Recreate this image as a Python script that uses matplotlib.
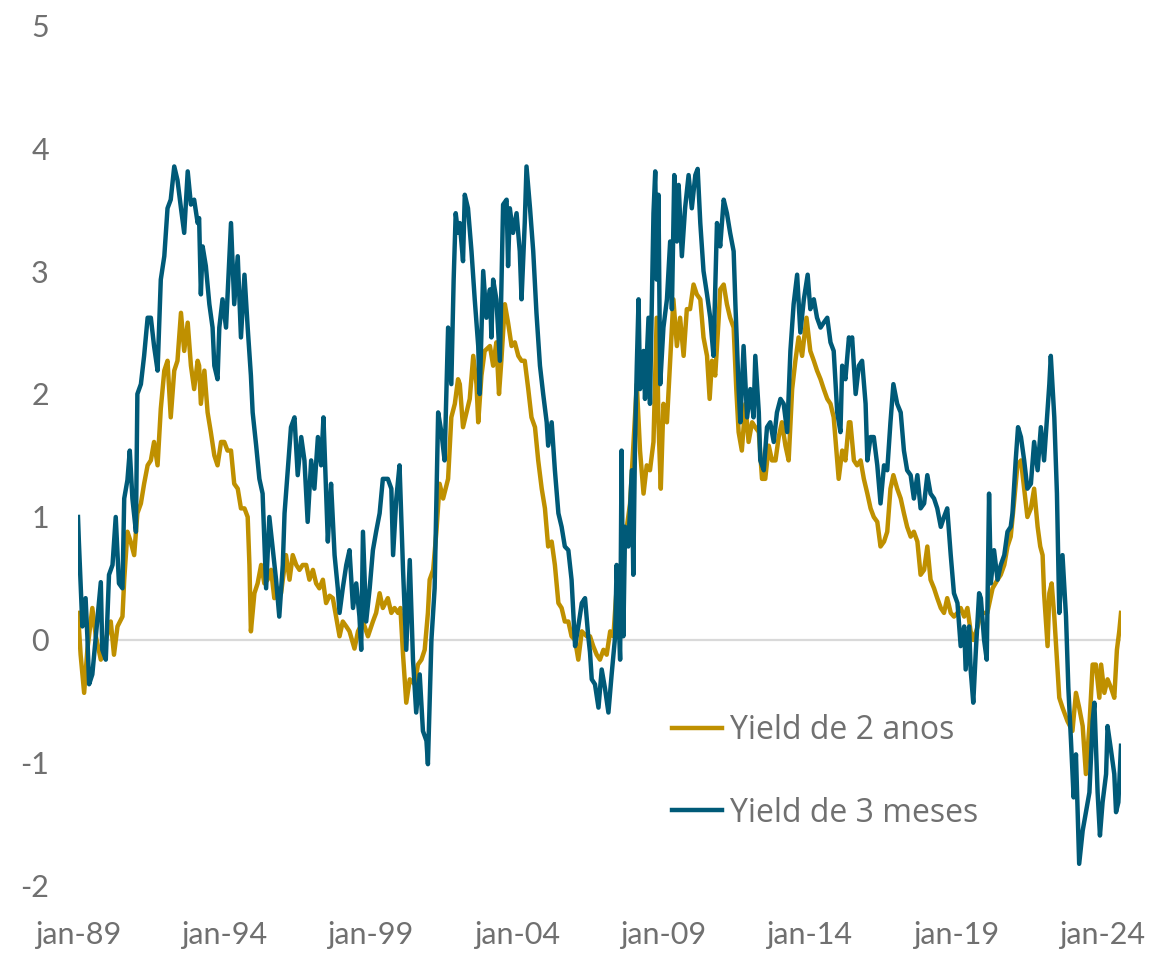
import matplotlib
matplotlib.use('Agg')
import matplotlib.pyplot as plt

# decimal years
gold_t = [
    1989.00, 1989.09, 1989.21, 1989.32, 1989.49, 1989.61, 1989.78, 1989.95, 1990.12, 1990.23,
    1990.35, 1990.52, 1990.58, 1990.69, 1990.80, 1990.92, 1991.03, 1991.15, 1991.26, 1991.38,
    1991.49, 1991.60, 1991.72, 1991.83, 1991.95, 1992.06, 1992.17, 1992.29, 1992.40, 1992.52,
    1992.63, 1992.75, 1992.86, 1992.97, 1993.09,
    1993.14, 1993.20, 1993.32, 1993.43, 1993.54, 1993.66, 1993.77, 1993.89, 1994.00, 1994.11,
    1994.23, 1994.34, 1994.46, 1994.57, 1994.69, 1994.80, 1994.86, 1994.91, 1995.03, 1995.14,
    1995.26, 1995.37, 1995.48, 1995.60, 1995.71, 1995.83, 1995.94, 1996.11, 1996.23, 1996.34,
    1996.46, 1996.57, 1996.68, 1996.80, 1996.91, 1997.03, 1997.14, 1997.25, 1997.37, 1997.48,
    1997.60, 1997.71, 1997.82, 1997.94, 1998.05, 1998.17, 1998.28, 1998.45, 1998.57, 1998.74,
    1998.91, 1999.08, 1999.19, 1999.31, 1999.42, 1999.59, 1999.71, 1999.82, 1999.94, 2000.02,
    2000.11, 2000.22, 2000.34, 2000.51, 2000.62, 2000.74, 2000.85, 2000.96, 2001.02, 2001.14,
    2001.25, 2001.36, 2001.48, 2001.65, 2001.76, 2001.88, 2001.99,
    2002.05, 2002.16, 2002.28, 2002.39, 2002.51, 2002.62, 2002.68, 2002.79, 2002.90, 2003.08,
    2003.19, 2003.30, 2003.39, 2003.47, 2003.59, 2003.70, 2003.82, 2003.93, 2004.05, 2004.16,
    2004.27, 2004.39, 2004.50, 2004.62, 2004.73, 2004.85, 2004.96, 2005.07, 2005.19, 2005.30,
    2005.42, 2005.53, 2005.64, 2005.76, 2005.87, 2005.99, 2006.10, 2006.22, 2006.39,
    2006.50, 2006.61, 2006.73, 2006.84, 2006.96, 2007.07, 2007.19, 2007.30, 2007.41, 2007.53,
    2007.64, 2007.76, 2007.87, 2007.98, 2008.10, 2008.21, 2008.33, 2008.44, 2008.55, 2008.67,
    2008.78, 2008.84, 2008.92, 2009.01, 2009.13, 2009.24, 2009.35, 2009.47, 2009.58, 2009.70,
    2009.81, 2009.92, 2010.04, 2010.15, 2010.27, 2010.38, 2010.50, 2010.59, 2010.67, 2010.78,
    2010.90,
    2010.95, 2011.07, 2011.18, 2011.29, 2011.41, 2011.50, 2011.58, 2011.69, 2011.81, 2011.92,
    2012.04, 2012.15, 2012.27, 2012.38, 2012.49, 2012.61, 2012.72, 2012.84, 2012.95, 2013.06,
    2013.18, 2013.29, 2013.41, 2013.52, 2013.63, 2013.75, 2013.90, 2014.03, 2014.15, 2014.26,
    2014.38, 2014.49, 2014.61, 2014.72, 2014.83, 2014.95, 2015.00, 2015.12, 2015.23, 2015.35,
    2015.40, 2015.52, 2015.63, 2015.75, 2015.86, 2015.98, 2016.09, 2016.20, 2016.32, 2016.43,
    2016.55, 2016.66, 2016.77, 2016.87, 2017.00, 2017.12, 2017.23, 2017.34, 2017.46, 2017.57,
    2017.69, 2017.80, 2017.92, 2018.03, 2018.14, 2018.26, 2018.37, 2018.49, 2018.60, 2018.71,
    2018.83, 2018.94, 2019.06, 2019.17, 2019.29, 2019.40, 2019.51, 2019.60, 2019.74,
    2019.86, 2020.08, 2020.26, 2020.43, 2020.54, 2020.66, 2020.77, 2020.88, 2020.99, 2021.11,
    2021.23, 2021.34, 2021.45, 2021.57, 2021.68, 2021.80, 2021.89, 2021.97, 2022.02, 2022.14,
    2022.20, 2022.28, 2022.37, 2022.46, 2022.54, 2022.65, 2022.82, 2022.99, 2023.11, 2023.22,
    2023.34, 2023.45, 2023.57, 2023.68, 2023.79, 2023.91, 2023.97, 2024.08, 2024.19, 2024.31,
    2024.42, 2024.51, 2024.59, 2024.65,
]
gold_v = [
    0.22, -0.12, -0.43, -0.08, 0.26, 0.03, -0.16, 0.00, 0.15, -0.12,
    0.11, 0.19, 0.49, 0.88, 0.80, 0.69, 1.03, 1.11, 1.27, 1.42,
    1.46, 1.61, 1.42, 1.88, 2.19, 2.27, 1.81, 2.19, 2.27, 2.66,
    2.35, 2.58, 2.23, 2.04, 2.27,
    2.23, 1.92, 2.19, 1.85, 1.69, 1.50, 1.42, 1.61, 1.61, 1.54,
    1.54, 1.27, 1.23, 1.07, 1.07, 1.00, 0.61, 0.07, 0.38, 0.46,
    0.61, 0.46, 0.49, 0.57, 0.34, 0.42, 0.38, 0.69, 0.49, 0.69,
    0.61, 0.57, 0.61, 0.61, 0.49, 0.57, 0.46, 0.42, 0.49, 0.30,
    0.36, 0.34, 0.19, 0.03, 0.15, 0.11, 0.07, -0.07, 0.07, 0.15,
    0.03, 0.15, 0.22, 0.38, 0.26, 0.34, 0.22, 0.26, 0.22, 0.26,
    -0.12, -0.51, -0.32, -0.36, -0.20, -0.16, -0.08, 0.22, 0.49, 0.57,
    0.88, 1.27, 1.15, 1.31, 1.81, 1.92, 2.12,
    2.08, 1.73, 1.85, 1.96, 2.31, 2.08, 1.77, 2.15, 2.35, 2.39,
    2.23, 2.42, 2.00, 2.27, 2.73, 2.58, 2.39, 2.42, 2.31, 2.27,
    2.27, 2.04, 1.81, 1.73, 1.46, 1.23, 1.07, 0.76, 0.80, 0.61,
    0.30, 0.26, 0.15, 0.15, 0.03, 0.00, -0.16, 0.07, 0.03,
    0.03, -0.05, -0.12, -0.16, -0.08, -0.12, 0.07, 0.03, 0.42, 0.49,
    0.73, 0.92, 1.11, 1.58, 2.08, 1.54, 1.19, 1.42, 1.38, 1.61,
    2.62, 1.77, 1.23, 1.92, 1.77, 2.27, 2.77, 2.39, 2.62, 2.31,
    2.69, 2.69, 2.89, 2.81, 2.77, 2.46, 2.31, 1.96, 2.27, 2.15,
    2.62,
    2.85, 2.89, 2.73, 2.62, 2.54, 2.04, 1.69, 1.54, 1.92, 1.61,
    1.77, 1.73, 1.69, 1.31, 1.31, 1.58, 1.46, 1.46, 1.65, 1.77,
    1.58, 1.46, 2.04, 2.27, 2.46, 2.31, 2.62, 2.35, 2.27, 2.19,
    2.12, 2.04, 1.96, 1.92, 1.81, 1.46, 1.31, 1.54, 1.46, 1.77,
    1.77, 1.46, 1.42, 1.46, 1.31, 1.19, 1.07, 1.00, 0.96, 0.76,
    0.80, 0.88, 1.23, 1.34, 1.23, 1.15, 1.03, 0.92, 0.84, 0.88,
    0.80, 0.53, 0.57, 0.76, 0.49, 0.42, 0.34, 0.26, 0.22, 0.34,
    0.22, 0.19, 0.22, 0.26, 0.19, 0.26, 0.07, 0.00, 0.10,
    0.22, 0.22, 0.42, 0.49, 0.53, 0.61, 0.76, 0.84, 1.11, 1.42,
    1.46, 1.23, 1.00, 1.07, 1.23, 0.92, 0.76, 0.69, 0.38, -0.05,
    0.38, 0.46, 0.19, -0.16, -0.47, -0.55, -0.66, -0.74, -0.43, -0.55,
    -0.70, -1.09, -0.70, -0.20, -0.20, -0.47, -0.20, -0.43, -0.32, -0.39,
    -0.47, -0.08, 0.07, 0.22,
]

blue_t = [
    1989.00, 1989.03, 1989.09, 1989.15, 1989.26, 1989.32, 1989.38, 1989.49, 1989.61, 1989.78,
    1989.83, 1989.95, 1990.06, 1990.18, 1990.29, 1990.40, 1990.52, 1990.58, 1990.69, 1990.77,
    1990.86, 1990.98, 1991.03, 1991.15, 1991.26, 1991.38, 1991.49, 1991.60, 1991.72, 1991.83,
    1991.95, 1992.06, 1992.17, 1992.29, 1992.40, 1992.52, 1992.63, 1992.75, 1992.86, 1992.97,
    1993.09,
    1993.14, 1993.20, 1993.26, 1993.37, 1993.49, 1993.60, 1993.66, 1993.77, 1993.83, 1993.94,
    1994.06, 1994.23, 1994.34, 1994.46, 1994.57, 1994.69, 1994.80, 1994.91, 1994.97, 1995.09,
    1995.20, 1995.31, 1995.43, 1995.54, 1995.66, 1995.77, 1995.88, 1996.00, 1996.06, 1996.17,
    1996.28, 1996.40, 1996.51, 1996.63, 1996.74, 1996.85, 1996.97, 1997.08, 1997.20, 1997.31,
    1997.39, 1997.54,
    1997.60, 1997.65, 1997.77, 1997.88, 1997.94, 1998.05, 1998.17, 1998.28, 1998.40, 1998.51,
    1998.62, 1998.68, 1998.74, 1998.85, 1998.97, 1999.08, 1999.19, 1999.31, 1999.42, 1999.59,
    1999.71, 1999.77, 1999.88, 1999.99, 2000.11, 2000.22, 2000.34, 2000.45, 2000.56, 2000.68,
    2000.79, 2000.91, 2000.96, 2001.08, 2001.19, 2001.31, 2001.42, 2001.53, 2001.65, 2001.76,
    2001.84, 2001.91, 2001.99,
    2002.05, 2002.16, 2002.22, 2002.33, 2002.45, 2002.56, 2002.68, 2002.73, 2002.85, 2002.96,
    2003.08, 2003.13, 2003.19, 2003.30, 2003.42, 2003.53, 2003.65, 2003.70, 2003.76, 2003.87,
    2003.99, 2004.10, 2004.16, 2004.27, 2004.33, 2004.45, 2004.56, 2004.67, 2004.79, 2004.90,
    2005.02, 2005.07, 2005.19, 2005.30, 2005.42, 2005.53, 2005.64, 2005.76, 2005.87, 2005.99,
    2006.10, 2006.22, 2006.33, 2006.44,
    2006.50, 2006.56, 2006.67, 2006.79, 2006.90, 2007.01, 2007.13, 2007.24, 2007.36, 2007.41,
    2007.47, 2007.53, 2007.58, 2007.64, 2007.70, 2007.81, 2007.87, 2007.93, 2007.98, 2008.04,
    2008.10, 2008.16, 2008.21, 2008.33, 2008.38, 2008.50, 2008.55, 2008.67, 2008.73, 2008.78,
    2008.84, 2008.90, 2009.01, 2009.13, 2009.24, 2009.30, 2009.38, 2009.47, 2009.53, 2009.64,
    2009.75, 2009.87, 2009.98, 2010.10, 2010.18, 2010.27, 2010.38, 2010.50, 2010.61, 2010.72,
    2010.84, 2010.90,
    2010.95, 2011.07, 2011.18, 2011.29, 2011.41, 2011.47, 2011.58, 2011.64, 2011.75, 2011.87,
    2011.98, 2012.09, 2012.15, 2012.27, 2012.32, 2012.44, 2012.55, 2012.66, 2012.78, 2012.89,
    2013.01, 2013.12, 2013.24, 2013.35, 2013.46, 2013.58, 2013.69, 2013.81, 2013.94, 2014.03,
    2014.15, 2014.26, 2014.38, 2014.49, 2014.61, 2014.72, 2014.83, 2014.95, 2015.06, 2015.12,
    2015.23, 2015.35,
    2015.40, 2015.46, 2015.58, 2015.69, 2015.80, 2015.92, 2015.98, 2016.09, 2016.20, 2016.32,
    2016.43, 2016.55, 2016.66, 2016.77, 2016.87, 2017.00, 2017.12, 2017.23, 2017.34, 2017.46,
    2017.57, 2017.69, 2017.80, 2017.92, 2018.03, 2018.14, 2018.26, 2018.37, 2018.49, 2018.60,
    2018.71, 2018.83, 2018.94, 2019.06, 2019.17, 2019.29, 2019.34, 2019.46, 2019.51, 2019.60,
    2019.69, 2019.80,
    2019.86, 2019.97, 2020.06, 2020.14, 2020.20, 2020.31, 2020.43, 2020.54, 2020.66, 2020.77,
    2020.88, 2020.94, 2021.05, 2021.13, 2021.23, 2021.34, 2021.45, 2021.57, 2021.68, 2021.80,
    2021.91, 2022.02, 2022.14, 2022.20, 2022.25, 2022.37, 2022.46, 2022.54, 2022.65, 2022.77,
    2022.85, 2022.94, 2023.03, 2023.11, 2023.22, 2023.34, 2023.45, 2023.57, 2023.68, 2023.74,
    2023.85, 2023.93, 2024.02, 2024.14, 2024.19, 2024.31, 2024.42, 2024.48, 2024.56, 2024.65,
]
blue_v = [
    1.00, 0.80, 0.46, 0.11, 0.34, 0.03, -0.36, -0.28, 0.03, 0.47,
    -0.08, -0.16, 0.53, 0.61, 1.00, 0.46, 0.42, 1.15, 1.30, 1.54,
    1.15, 0.88, 2.00, 2.08, 2.31, 2.62, 2.62, 2.39, 2.19, 2.93,
    3.12, 3.51, 3.58, 3.85, 3.74, 3.51, 3.31, 3.81, 3.54, 3.58,
    3.39,
    3.43, 2.81, 3.20, 3.04, 2.73, 2.54, 2.23, 2.12, 2.54, 2.77,
    2.54, 3.39, 2.73, 3.12, 2.46, 2.97, 2.54, 2.15, 1.85, 1.58,
    1.31, 1.19, 0.42, 1.00, 0.73, 0.49, 0.19, 0.61, 1.03, 1.38,
    1.73, 1.81, 1.34, 1.65, 1.46, 0.96, 1.46, 1.23, 1.65, 1.42,
    1.81, 0.80,
    1.07, 1.27, 0.69, 0.42, 0.22, 0.42, 0.61, 0.73, 0.26, 0.46,
    0.19, -0.08, 0.88, 0.15, 0.42, 0.73, 0.88, 1.03, 1.31, 1.31,
    1.23, 0.69, 1.15, 1.42, 0.57, -0.08, 0.65, -0.16, -0.59, -0.28,
    -0.74, -0.82, -1.01, 0.00, 0.42, 1.85, 1.69, 1.46, 2.54, 2.08,
    2.93, 3.47, 3.31,
    3.39, 3.08, 3.62, 3.51, 3.16, 2.77, 2.39, 2.00, 3.00, 2.62,
    2.85, 2.46, 2.93, 2.77, 2.27, 3.54, 3.58, 3.04, 3.51, 3.31,
    3.47, 3.16, 2.77, 3.39, 3.85, 3.51, 3.16, 2.66, 2.23, 2.00,
    1.77, 1.58, 1.77, 1.38, 1.03, 0.92, 0.76, 0.73, 0.49, -0.05,
    0.11, 0.30, 0.34, 0.03,
    -0.10, -0.32, -0.36, -0.55, -0.24, -0.39, -0.59, -0.28, 0.03, 0.61,
    0.22, -0.16, 1.54, 0.03, 0.92, 0.76, 1.07, 1.38, 0.53, 1.61,
    2.23, 2.77, 2.04, 2.35, 1.96, 2.62, 1.92, 3.47, 3.81, 2.93,
    3.62, 2.08, 2.54, 2.77, 3.24, 2.69, 3.78, 3.24, 3.70, 3.12,
    3.51, 3.78, 3.51, 3.78, 3.83, 3.39, 3.00, 2.81, 2.62, 2.31,
    3.39, 3.31,
    3.20, 3.58, 3.47, 3.31, 3.16, 2.73, 2.04, 1.77, 2.39, 1.81,
    2.04, 1.81, 2.31, 1.85, 1.46, 1.38, 1.73, 1.77, 1.61, 1.85,
    1.96, 1.92, 1.69, 2.35, 2.73, 2.97, 2.50, 2.77, 2.97, 2.69,
    2.77, 2.62, 2.54, 2.58, 2.62, 2.42, 2.35, 1.85, 1.69, 2.23,
    2.12, 2.46,
    2.42, 2.46, 2.00, 2.23, 2.27, 1.92, 1.46, 1.65, 1.65, 1.42,
    1.11, 1.42, 1.38, 1.77, 2.08, 1.92, 1.85, 1.54, 1.38, 1.34,
    1.15, 1.34, 1.07, 1.11, 1.34, 1.19, 1.15, 1.07, 0.92, 1.00,
    1.07, 0.69, 0.38, 0.30, -0.05, 0.11, -0.24, 0.11, -0.24, -0.51,
    -0.08, 0.38,
    0.34, 0.00, -0.16, 1.19, 0.46, 0.73, 0.49, 0.61, 0.69, 0.88,
    0.92, 1.03, 1.46, 1.73, 1.65, 1.46, 1.23, 1.27, 1.61, 1.38,
    1.73, 1.46, 1.88, 2.08, 2.31, 1.81, 1.19, 0.22, 0.69, 0.19,
    -0.39, -0.82, -1.28, -0.93, -1.82, -1.55, -1.40, -1.24, -0.66, -0.51,
    -1.24, -1.59, -1.32, -1.09, -0.70, -0.90, -1.09, -1.40, -1.32, -0.86,
]

labels = ['Yield de 2 anos', 'Yield de 3 meses']
tick_years = [1989, 1994, 1999, 2004, 2009, 2014, 2019, 2024]
tick_labels = ['jan-89', 'jan-94', 'jan-99', 'jan-04', 'jan-09', 'jan-14', 'jan-19', 'jan-24']
y_ticks = [-2, -1, 0, 1, 2, 3, 4, 5]

gold = '#BF9000'
blue = '#005A78'
grey_text = '#707070'

fig = plt.figure(figsize=(11.52, 9.55), dpi=100)
ax = fig.add_axes([0.0677, 0.0723, 0.9054, 0.9015])

ax.axhline(0, color='#D9D9D9', lw=1.6, zorder=1)
ax.plot(gold_t, gold_v, color=gold, lw=3.2, label=labels[0], zorder=2)
ax.plot(blue_t, blue_v, color=blue, lw=3.2, label=labels[1], zorder=3)

ax.set_xlim(gold_t[0], gold_t[-1])
ax.set_ylim(-2, 5)
ax.set_xticks(tick_years)
ax.set_xticklabels(tick_labels)
ax.set_yticks(y_ticks)
ax.set_yticklabels([str(v) for v in y_ticks])

for s in ax.spines.values():
    s.set_visible(False)
ax.tick_params(length=0, colors=grey_text, labelsize=22)
ax.tick_params(axis='y', pad=21)
ax.tick_params(axis='x', pad=25)
for lbl in ax.get_xticklabels() + ax.get_yticklabels():
    lbl.set_family(['Liberation Sans Narrow', 'Lato', 'DejaVu Sans'])

leg = ax.legend(loc='upper left', bbox_to_anchor=(672 / 1152, 1 - 714 / 955),
                bbox_transform=fig.transFigure, frameon=False,
                prop={'family': 'Open Sans', 'size': 23},
                handlelength=1.55, handletextpad=0.25, labelspacing=1.55,
                borderpad=0, borderaxespad=0)
for t in leg.get_texts():
    t.set_color(grey_text)

fig.savefig('out.png', dpi=100)
